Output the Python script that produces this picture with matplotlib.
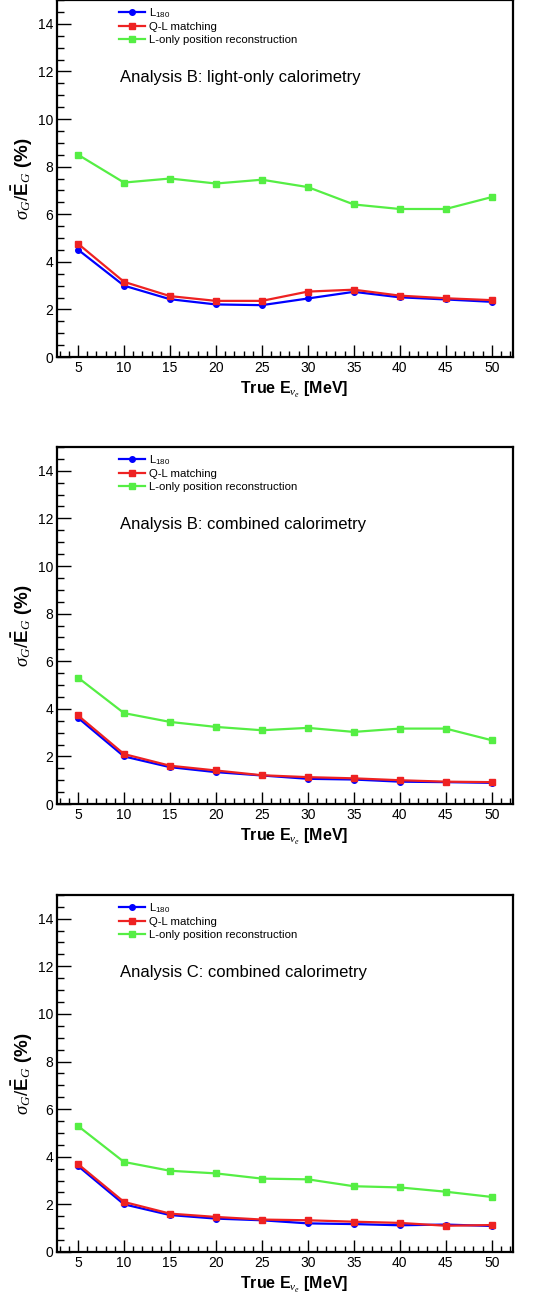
import matplotlib
matplotlib.use("Agg")
import matplotlib.pyplot as plt
from matplotlib.ticker import MultipleLocator

plt.rcParams['font.family'] = ['Liberation Sans', 'DejaVu Sans']
plt.rcParams['mathtext.fontset'] = 'custom'
plt.rcParams['mathtext.rm'] = 'Liberation Sans'
plt.rcParams['mathtext.it'] = 'Liberation Serif:italic'
plt.rcParams['mathtext.bf'] = 'Liberation Sans:bold'

energy = [5, 10, 15, 20, 25, 30, 35, 40, 45, 50]

# Analysis B: light-only calorimetry
b_light_l180 = [4.51, 3.00, 2.43, 2.21, 2.18, 2.46, 2.74, 2.51, 2.42, 2.32]
b_light_ql = [4.76, 3.16, 2.56, 2.36, 2.36, 2.75, 2.83, 2.58, 2.47, 2.39]
b_light_lonly = [8.50, 7.33, 7.50, 7.29, 7.45, 7.14, 6.41, 6.22, 6.22, 6.72]

# Analysis B: combined calorimetry
b_comb_l180 = [3.62, 2.00, 1.55, 1.34, 1.20, 1.06, 1.03, 0.94, 0.92, 0.89]
b_comb_ql = [3.72, 2.10, 1.61, 1.41, 1.21, 1.13, 1.08, 1.00, 0.94, 0.92]
b_comb_lonly = [5.31, 3.82, 3.45, 3.24, 3.10, 3.20, 3.03, 3.17, 3.17, 2.68]

# Analysis C: combined calorimetry
c_comb_l180 = [3.61, 2.00, 1.55, 1.40, 1.33, 1.20, 1.17, 1.12, 1.15, 1.09]
c_comb_ql = [3.69, 2.10, 1.61, 1.47, 1.36, 1.33, 1.27, 1.22, 1.10, 1.13]
c_comb_lonly = [5.29, 3.78, 3.41, 3.30, 3.08, 3.05, 2.76, 2.71, 2.53, 2.31]

panels = [
    ("Analysis B: light-only calorimetry", b_light_l180, b_light_ql, b_light_lonly),
    ("Analysis B: combined calorimetry", b_comb_l180, b_comb_ql, b_comb_lonly),
    ("Analysis C: combined calorimetry", c_comb_l180, c_comb_ql, c_comb_lonly),
]
bottoms = [0.7245, 0.3796, 0.0340]

fig = plt.figure(figsize=(5.41, 12.96), dpi=100)

for (title, l180, ql, lonly), bot in zip(panels, bottoms):
    ax = fig.add_axes([0.106, bot, 0.842, 0.2755])
    ax.plot(energy, l180, color='#0000ff', marker='o', ms=4, lw=1.6, label=r'L$_{180}$')
    ax.plot(energy, ql, color='#ee2222', marker='s', ms=4, lw=1.6, label='Q-L matching')
    ax.plot(energy, lonly, color='#55ee44', marker='s', ms=4, lw=1.6,
            label='L-only position reconstruction')
    ax.set_xlim(2.75, 52.3)
    ax.set_ylim(0, 15)
    ax.xaxis.set_major_locator(MultipleLocator(5))
    ax.xaxis.set_minor_locator(MultipleLocator(1))
    ax.yaxis.set_minor_locator(MultipleLocator(0.5))
    ax.set_yticks([0, 2, 4, 6, 8, 10, 12, 14])
    ax.tick_params(axis='both', which='both', direction='in', top=False, right=False,
                   labelsize=10, width=1.0)
    ax.tick_params(axis='y', which='major', length=10, pad=3)
    ax.tick_params(axis='y', which='minor', length=5)
    ax.tick_params(axis='x', which='major', length=8.5, pad=3)
    ax.tick_params(axis='x', which='minor', length=4.3)
    for sp in ax.spines.values():
        sp.set_linewidth(1.6)
    ax.set_xlabel(r'True E$_{\nu_e}$ [MeV]', fontsize=11.5, fontweight='bold')
    ax.xaxis.set_label_coords(0.52, -0.065)
    ax.set_ylabel(r'$\sigma_G/\mathbf{\bar{E}}_G$ (%)', fontsize=13.5, fontweight='bold')
    ax.yaxis.set_label_coords(-0.05, 0.5)
    ax.text(9.55, 11.75, title, fontsize=12, va='center', ha='left')
    ax.legend(loc='upper left', bbox_to_anchor=(0.125, 0.995), frameon=False, fontsize=8.2,
              handlelength=2.3, handletextpad=0.35, labelspacing=0.22, borderaxespad=0)

fig.savefig('out.png', dpi=100)
